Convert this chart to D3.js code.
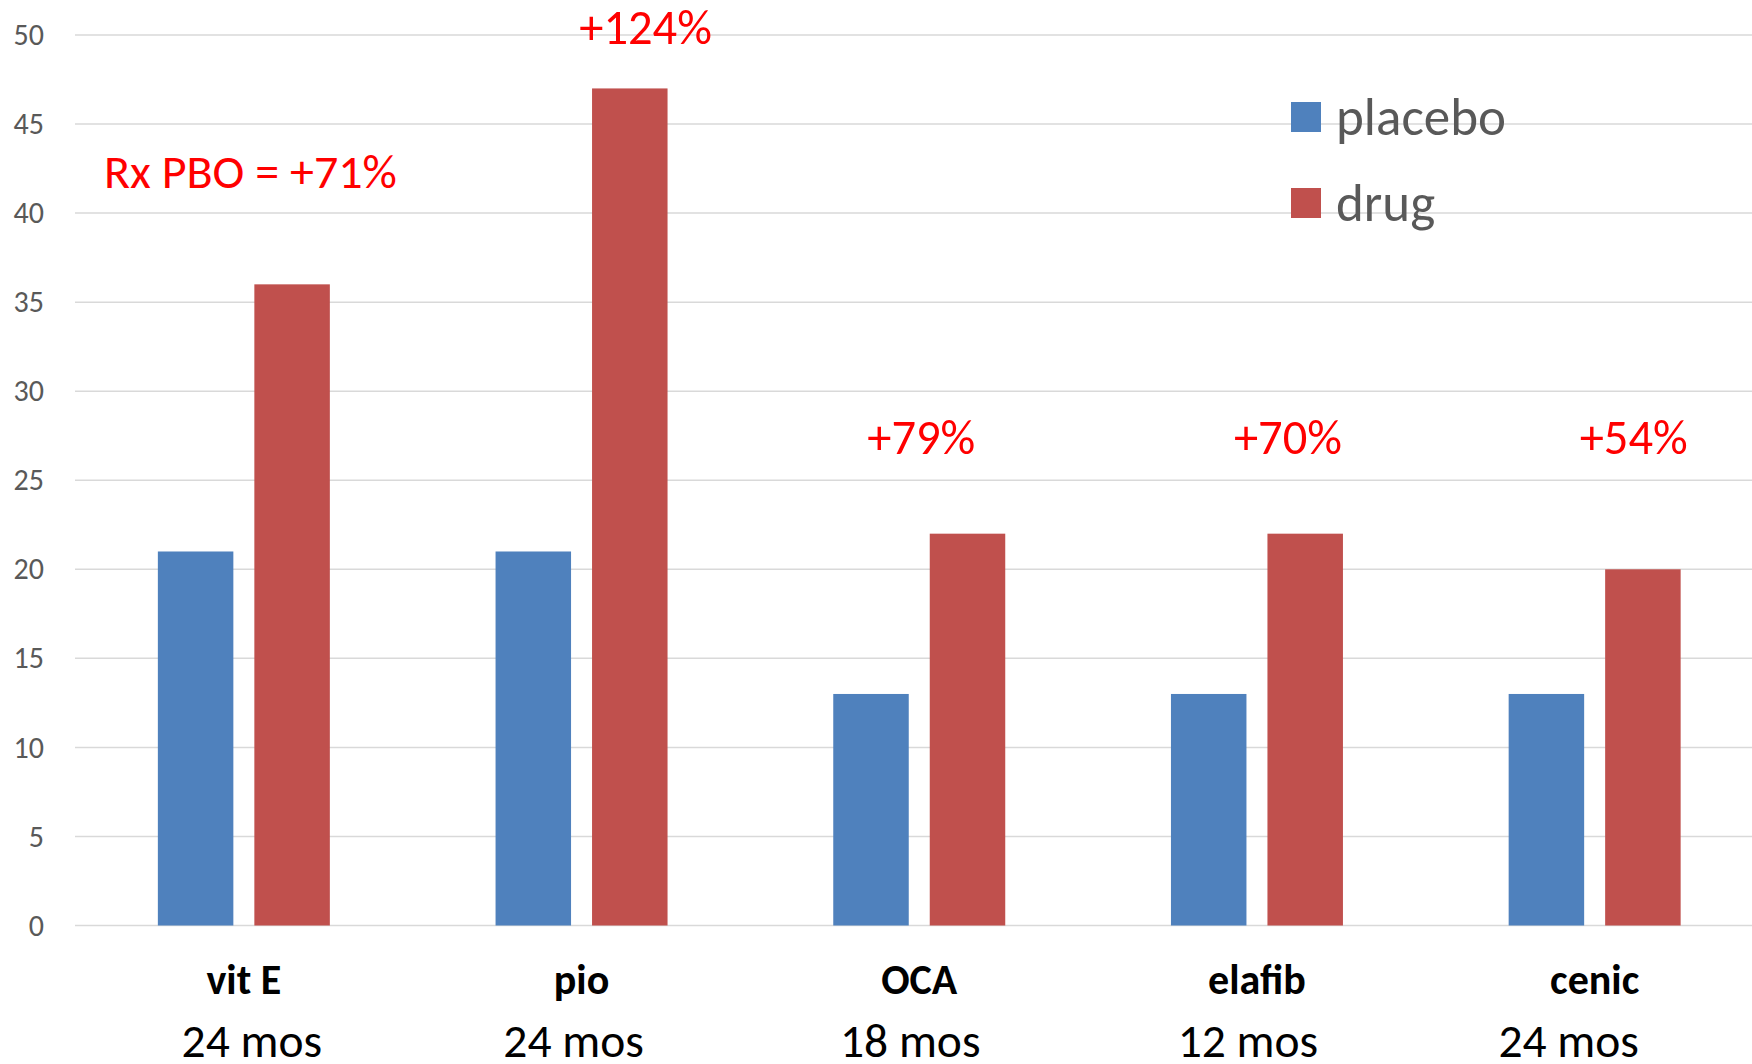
<!DOCTYPE html>
<html>
<head>
<meta charset="utf-8">
<script src="https://cdn.jsdelivr.net/npm/d3@7"></script>
<style>
  html, body { margin: 0; padding: 0; background: #fff; overflow: hidden; }
  svg { display: block; }
  text { font-family: Carlito, Lato, "Open Sans", sans-serif; }
</style>
</head>
<body>
<svg id="chart" width="1752" height="1064"></svg>
<script>
// Trials and their durations
const trials    = ["vit E", "pio", "OCA", "elafib", "cenic"];
const durations = ["24 mos", "24 mos", "18 mos", "12 mos", "24 mos"];

// Response rates (%) per arm
const series   = ["placebo", "drug"];
const placebo  = [21, 21, 13, 13, 13];
const drug     = [36, 47, 22, 22, 20];

// Y axis ticks
const yTicks = [0, 5, 10, 15, 20, 25, 30, 35, 40, 45, 50];

// Reference line for the pooled placebo rate
const referenceLevel = 20;

// Relative gain of drug over placebo, shown above the trials
const gainTrials = ["pio", "OCA", "elafib", "cenic"];
const gainLabels = ["+124%", "+79%", "+70%", "+54%"];
const summaryLabel = "Rx PBO = +71%";

const colors = { placebo: "#4F81BD", drug: "#C0504D" };

const svg = d3.select("#chart");
const W = 1752, H = 1064;
const plot = { left: 75, right: 1763.5, top: 35, bottom: 925.5 };

const x = d3.scaleBand()
  .domain(trials)
  .range([plot.left, plot.right])
  .paddingInner(0.4907)
  .paddingOuter(0.4907 / 2);

const xs = d3.scaleBand()
  .domain(series)
  .range([0, x.bandwidth()])
  .paddingInner(0.2176)
  .paddingOuter(0);

const y = d3.scaleLinear().domain([0, 50]).range([plot.bottom, plot.top]);

// Shadow for the reference line
const defs = svg.append("defs");
const shadow = defs.append("filter").attr("id", "lineShadow")
  .attr("x", "-5%").attr("y", "-300%").attr("width", "110%").attr("height", "700%");
shadow.append("feDropShadow")
  .attr("dx", 0).attr("dy", 4).attr("stdDeviation", 3)
  .attr("flood-color", "#000").attr("flood-opacity", 0.35);

// Gridlines
svg.append("g")
  .selectAll("line")
  .data(yTicks)
  .join("line")
  .attr("x1", plot.left).attr("x2", W)
  .attr("y1", d => y(d)).attr("y2", d => y(d))
  .attr("stroke", "#d9d9d9").attr("stroke-width", 1.5);

// Y axis labels
const yAxis = d3.axisLeft(y).tickValues(yTicks).tickSize(0).tickPadding(0);
svg.append("g")
  .attr("transform", `translate(44,0)`)
  .call(yAxis)
  .call(g => g.select(".domain").remove())
  .call(g => g.selectAll("text")
    .attr("fill", "#595959")
    .attr("font-size", 30)
    .attr("font-family", "Carlito, Lato, sans-serif"));

// Bars
const rows = trials.map((t, i) => ({ trial: t, placebo: placebo[i], drug: drug[i] }));
svg.append("g")
  .selectAll("g")
  .data(rows)
  .join("g")
  .attr("transform", d => `translate(${x(d.trial)},0)`)
  .selectAll("rect")
  .data(d => series.map(s => ({ key: s, value: d[s] })))
  .join("rect")
  .attr("x", d => xs(d.key))
  .attr("width", xs.bandwidth())
  .attr("y", d => y(d.value))
  .attr("height", d => y(0) - y(d.value))
  .attr("fill", d => colors[d.key]);

// Reference line
svg.append("line")
  .attr("x1", plot.left + 7).attr("x2", W + 10)
  .attr("y1", y(referenceLevel)).attr("y2", y(referenceLevel))
  .attr("stroke", "#4A7EBB").attr("stroke-width", 5)
  .attr("filter", "url(#lineShadow)");

// Category labels
const monthShift = [8, -8, -9, -9, -26];
const cats = svg.append("g");
cats.selectAll("text.name")
  .data(trials)
  .join("text")
  .attr("class", "name")
  .attr("x", d => x(d) + x.bandwidth() / 2)
  .attr("y", 994)
  .attr("text-anchor", "middle")
  .attr("font-size", 42)
  .attr("font-weight", "bold")
  .attr("fill", "#000")
  .text(d => d);
cats.selectAll("text.dur")
  .data(durations)
  .join("text")
  .attr("class", "dur")
  .attr("x", (d, i) => x(trials[i]) + x.bandwidth() / 2 + monthShift[i])
  .attr("y", 1057)
  .attr("text-anchor", "middle")
  .attr("font-size", 47.5)
  .attr("fill", "#000")
  .text(d => d);

// Gain annotations
const gainShift = [64, 2, 31, 39];
const gainLevel = [49.5, 26.5, 26.5, 26.5];
svg.append("g")
  .selectAll("text")
  .data(gainLabels)
  .join("text")
  .attr("x", (d, i) => x(gainTrials[i]) + x.bandwidth() / 2 + gainShift[i])
  .attr("y", (d, i) => y(gainLevel[i]))
  .attr("text-anchor", "middle")
  .attr("font-size", 48.5)
  .attr("fill", "#FF0000")
  .text(d => d);

svg.append("text")
  .attr("x", plot.left + 29)
  .attr("y", y(41.4))
  .attr("font-size", 48)
  .attr("fill", "#FF0000")
  .text(summaryLabel);

// Legend
const legend = svg.append("g").attr("transform", "translate(1291,102)");
const li = legend.selectAll("g")
  .data(series)
  .join("g")
  .attr("transform", (d, i) => `translate(0,${i * 86})`);
li.append("rect")
  .attr("width", 30).attr("height", 30)
  .attr("fill", d => colors[d]);
li.append("text")
  .attr("x", 45).attr("y", 33)
  .attr("font-size", 53)
  .attr("fill", "#595959")
  .text(d => d);
</script>
</body>
</html>
